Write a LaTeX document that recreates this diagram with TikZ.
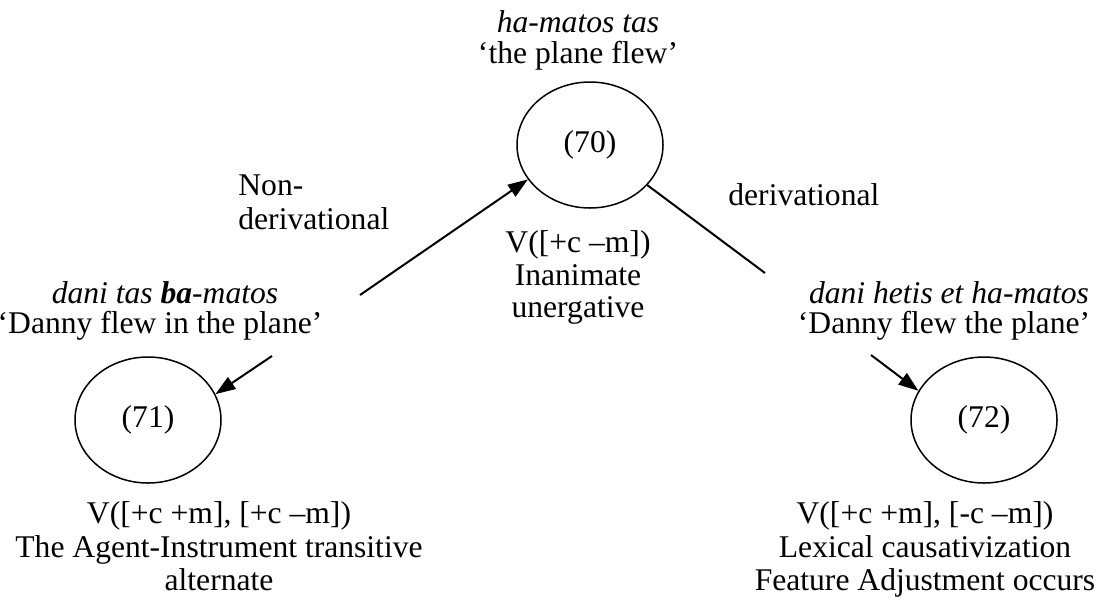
\documentclass[tikz,border=0pt]{standalone}
\usepackage{fontspec}
\setmainfont{Liberation Serif}
\usetikzlibrary{shapes.geometric,arrows.meta}
\begin{document}
\begin{tikzpicture}[x=0.5pt,y=-0.5pt,
  txt/.style={inner sep=0pt,anchor=base,font=\fontsize{15.8}{16.5}\selectfont},
  ltxt/.style={txt,anchor=base west},
  state/.style={draw,ellipse,line width=0.75pt,minimum width=73pt,minimum height=63pt,inner sep=0pt,font=\fontsize{15.8}{16.5}\selectfont},
  arr/.style={line width=1pt,-{Triangle[length=10pt,width=7pt]}},
  conn/.style={line width=1pt}]
\useasboundingbox (0,0) rectangle (1107,601);

% circles
\node[state] (c70) at (590,145) {(70)};
\node[state] (c71) at (148,420) {(71)};
\node[state] (c72) at (984,420) {(72)};

% top text
\node[txt] (t70a) at (578,32) {\textit{ha-matos tas}};
\node[txt] (t70b) at (578,63) {‘the plane flew’};
\node[txt] (t70c) at (578,252) {V([+c –m])};
\node[txt] (t70d) at (578,285) {Inanimate};
\node[txt] (t70e) at (578,317) {unergative};

% edge labels
\node[ltxt] (ndA) at (238,195) {Non-};
\node[ltxt] (ndB) at (238,229) {derivational};
\node[ltxt] (dv) at (728,205) {derivational};

% left texts
\node[txt] (t71a) at (165,303) {\textit{dani tas \textbf{ba}-matos}};
\node[txt] (t71b) at (160,333) {‘Danny flew in the plane’};
\node[txt] (t71c) at (219,523) {V([+c +m], [+c –m])};
\node[txt] (t71d) at (219,557) {The Agent-Instrument transitive};
\node[txt] (t71e) at (219,590) {alternate};

% right texts
\node[txt] (t72a) at (949,303) {\textit{dani hetis et ha-matos}};
\node[txt] (t72b) at (944,333) {‘Danny flew the plane’};
\node[txt] (t72c) at (925,523) {V([+c +m], [-c –m])};
\node[txt] (t72d) at (925,557) {Lexical causativization};
\node[txt] (t72e) at (925,590) {Feature Adjustment occurs};

% connectors
\coordinate (p1) at (360,295);
\coordinate (p2) at (272,356);
\coordinate (p3) at (765,273);
\coordinate (p4) at (871,355);
\draw[arr] (p1) -- (c70.209);
\draw[arr] (p2) -- (c71.21);
\draw[conn] (c70.325) -- (p3);
\draw[arr] (p4) -- (c72.156);
\end{tikzpicture}
\end{document}
